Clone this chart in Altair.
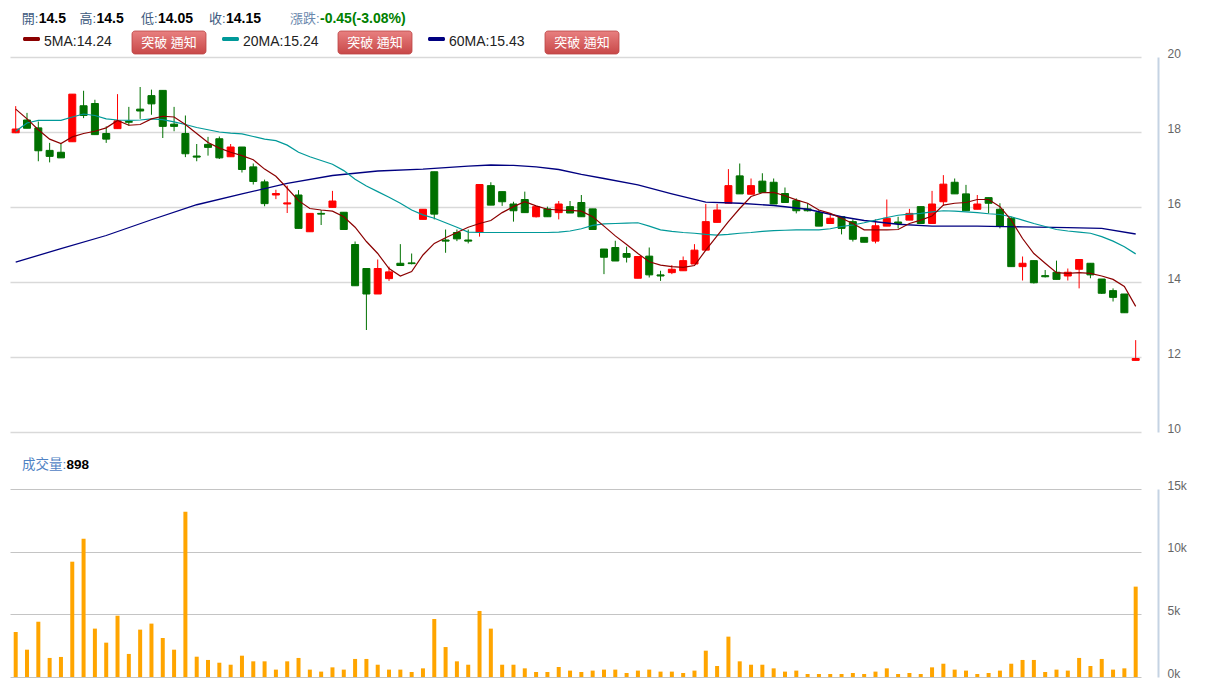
import altair as alt
import pandas as pd

FONT = "Liberation Sans, Arial, Noto Sans CJK TC, sans-serif"

# ---------------- data ----------------
opens = [17.98, 18.32, 18.11, 17.51, 17.46, 17.74, 18.70, 18.76, 17.96, 18.09,
         18.28, 18.61, 18.97, 19.11, 18.21, 17.96, 17.36, 17.67, 17.82, 17.34,
         17.60, 17.07, 16.67, 16.32, 16.08, 16.32, 15.34, 15.83, 15.99, 15.86,
         15.00, 14.36, 13.68, 14.09, 14.50, 14.51, 15.67, 16.94, 15.12, 15.32,
         15.12, 15.32, 16.57, 16.41, 16.08, 16.20, 15.74, 15.95, 15.85, 16.01,
         16.12, 15.95, 14.88, 14.92, 14.76, 14.10, 14.69, 14.19, 14.25, 14.30,
         14.48, 14.85, 15.59, 16.10, 16.83, 16.34, 16.69, 16.66, 16.36, 16.17,
         15.95, 15.85, 15.56, 15.74, 15.61, 15.19, 15.09, 15.49, 15.60, 15.65,
         16.01, 15.56, 16.14, 16.66, 16.35, 15.94, 16.25, 15.94, 15.70, 14.41,
         14.57, 14.17, 14.26, 14.16, 14.34, 14.50, 14.08, 13.77, 13.68, 11.91]
highs = [18.69, 18.51, 18.28, 17.71, 17.69, 19.01, 19.10, 18.86, 18.15, 19.01,
         18.67, 19.20, 19.13, 19.11, 18.67, 18.44, 17.68, 17.87, 17.88, 17.68,
         17.60, 17.16, 16.73, 16.46, 16.57, 16.45, 15.83, 15.92, 16.43, 15.86,
         15.08, 14.36, 14.60, 14.41, 15.01, 14.76, 15.94, 16.94, 15.40, 15.40,
         15.40, 16.60, 16.66, 16.41, 16.14, 16.41, 16.01, 16.01, 16.16, 16.16,
         16.32, 15.95, 14.88, 15.10, 14.94, 14.68, 14.92, 14.30, 14.45, 14.68,
         15.01, 16.08, 16.08, 17.01, 17.16, 16.76, 16.90, 16.76, 16.52, 16.23,
         16.10, 15.92, 15.79, 15.76, 15.67, 15.19, 15.67, 16.20, 15.74, 15.95,
         16.01, 16.43, 16.85, 16.76, 16.59, 16.32, 16.25, 16.10, 15.74, 14.68,
         14.57, 14.32, 14.57, 14.36, 14.60, 14.50, 14.08, 13.83, 13.68, 12.45]
lows = [17.97, 18.10, 17.22, 17.19, 17.31, 17.74, 18.37, 17.93, 17.71, 18.09,
        18.17, 18.35, 18.46, 17.84, 18.02, 17.33, 17.22, 17.37, 17.28, 17.34,
        16.92, 16.60, 16.02, 16.21, 15.84, 15.43, 15.34, 15.52, 15.99, 15.39,
        13.90, 12.72, 13.68, 14.03, 14.44, 14.47, 15.67, 15.67, 14.78, 15.09,
        15.03, 15.21, 16.05, 16.03, 15.61, 15.85, 15.72, 15.74, 15.67, 15.84,
        15.74, 15.39, 14.21, 14.56, 14.52, 14.10, 14.12, 14.03, 14.21, 14.30,
        14.48, 14.85, 15.59, 16.10, 16.35, 16.34, 16.39, 16.08, 16.12, 15.83,
        15.88, 15.49, 15.56, 15.27, 15.08, 15.06, 15.03, 15.49, 15.43, 15.65,
        15.56, 15.56, 16.03, 16.35, 15.90, 15.94, 15.83, 15.43, 14.41, 14.04,
        13.96, 14.12, 14.07, 14.04, 13.83, 14.10, 13.68, 13.48, 13.18, 11.91]
closes = [18.08, 18.10, 17.50, 17.35, 17.31, 19.01, 18.44, 17.93, 17.81, 18.30,
          18.26, 18.56, 18.75, 18.15, 18.15, 17.42, 17.33, 17.59, 17.31, 17.60,
          17.00, 16.68, 16.09, 16.36, 16.11, 15.43, 15.83, 15.81, 16.16, 15.40,
          13.90, 13.68, 14.36, 14.27, 14.44, 14.49, 15.94, 15.81, 15.09, 15.15,
          15.09, 16.60, 16.05, 16.14, 15.90, 15.85, 16.01, 15.74, 16.08, 15.84,
          15.74, 15.40, 14.66, 14.56, 14.66, 14.68, 14.19, 14.16, 14.34, 14.57,
          14.85, 15.61, 15.92, 16.57, 16.35, 16.57, 16.39, 16.08, 16.12, 15.90,
          15.90, 15.49, 15.70, 15.43, 15.14, 15.06, 15.50, 15.70, 15.56, 15.83,
          15.56, 16.08, 16.61, 16.35, 15.90, 16.08, 16.10, 15.49, 14.41, 14.50,
          13.98, 14.14, 14.07, 14.26, 14.60, 14.19, 13.70, 13.59, 13.18, 11.96]
volumes_k = [3.59, 2.18, 4.41, 1.52, 1.60, 9.20, 11.04, 3.86, 2.74, 4.89,
             1.84, 3.78, 4.26, 3.11, 2.18, 13.19, 1.62, 1.36, 1.14, 0.98,
             1.70, 1.25, 1.25, 0.59, 1.25, 1.52, 0.59, 0.43, 0.77, 0.59,
             1.44, 1.44, 0.98, 0.59, 0.59, 0.40, 0.69, 4.63, 2.39, 1.25,
             0.98, 5.27, 3.86, 0.98, 0.98, 0.69, 0.40, 0.40, 0.80, 0.51,
             0.40, 0.51, 0.59, 0.59, 0.32, 0.51, 0.59, 0.43, 0.43, 0.32,
             0.51, 2.10, 0.88, 3.22, 1.25, 0.98, 0.98, 0.69, 0.43, 0.51,
             0.24, 0.24, 0.24, 0.24, 0.32, 0.24, 0.43, 0.69, 0.24, 0.32,
             0.24, 0.77, 1.06, 0.59, 0.51, 0.24, 0.32, 0.51, 1.06, 1.36,
             1.36, 0.40, 0.59, 0.51, 1.52, 0.88, 1.44, 0.59, 0.69, 7.21]
ma5 = [18.61, 18.35, 18.06, 17.81, 17.69, 17.87, 17.96, 18.02, 18.11, 18.31,
       18.18, 18.20, 18.35, 18.42, 18.40, 18.20, 17.96, 17.72, 17.57, 17.46,
       17.37, 17.26, 17.01, 16.82, 16.50, 16.17, 15.96, 15.92, 15.89, 15.74,
       15.46, 15.08, 14.76, 14.36, 14.16, 14.28, 14.72, 15.03, 15.18, 15.32,
       15.46, 15.56, 15.64, 15.85, 16.01, 16.14, 16.03, 15.94, 15.92, 15.91,
       15.89, 15.74, 15.49, 15.23, 15.00, 14.76, 14.54, 14.45, 14.41, 14.39,
       14.44, 14.85, 15.23, 15.61, 15.96, 16.28, 16.38, 16.39, 16.30, 16.19,
       16.10, 15.92, 15.83, 15.70, 15.56, 15.39, 15.39, 15.39, 15.40, 15.56,
       15.65, 15.76, 16.05, 16.10, 16.12, 16.20, 16.20, 16.01, 15.65, 15.16,
       14.76, 14.50, 14.25, 14.23, 14.25, 14.23, 14.16, 14.07, 13.88, 13.35]
ma20 = [18.02, 18.24, 18.31, 18.31, 18.31, 18.40, 18.48, 18.44, 18.35, 18.32,
        18.31, 18.32, 18.35, 18.33, 18.27, 18.20, 18.12, 18.06, 18.00, 17.97,
        17.95, 17.88, 17.81, 17.77, 17.65, 17.46, 17.34, 17.24, 17.14, 16.97,
        16.74, 16.56, 16.41, 16.26, 16.10, 15.92, 15.79, 15.70, 15.58, 15.46,
        15.33, 15.32, 15.32, 15.32, 15.32, 15.32, 15.32, 15.32, 15.33, 15.36,
        15.42, 15.51, 15.55, 15.56, 15.57, 15.58, 15.49, 15.39, 15.35, 15.32,
        15.30, 15.27, 15.25, 15.27, 15.30, 15.32, 15.35, 15.37, 15.38, 15.39,
        15.39, 15.39, 15.42, 15.48, 15.52, 15.58, 15.65, 15.72, 15.78, 15.81,
        15.83, 15.87, 15.90, 15.89, 15.87, 15.85, 15.82, 15.80, 15.74, 15.65,
        15.56, 15.48, 15.40, 15.36, 15.33, 15.30, 15.21, 15.09, 14.94, 14.75]
ma60_idx = [0, 4, 8, 12, 16, 20, 24, 28, 32, 36, 40, 42, 44, 46, 48, 50, 52, 55,
            58, 61, 64, 67, 70, 73, 75, 78, 81, 85, 89, 93, 96, 99]
ma60_val = [14.53, 14.89, 15.24, 15.66, 16.06, 16.35, 16.63, 16.84, 16.96, 17.01,
            17.09, 17.12, 17.11, 17.07, 17.00, 16.87, 16.76, 16.59, 16.35, 16.13,
            16.10, 16.04, 15.94, 15.74, 15.64, 15.54, 15.49, 15.49, 15.47, 15.45,
            15.43, 15.28]

price_ticks = [10, 12, 14, 16, 18, 20]
vol_ticks = [0, 5000, 10000, 15000]

hdr_labels = ["開:", "高:", "低:", "收:", "漲跌:"]
hdr_values = ["14.5", "14.5", "14.05", "14.15", "-0.45(-3.08%)"]
ma_labels = ["5MA:14.24", "20MA:15.24", "60MA:15.43"]
ma_colors = ["#8b0000", "#009999", "#000080"]
button_text = "突破 通知"
vol_label = "成交量:"
vol_value = "898"

# ---------------- frames ----------------
n = len(closes)
idx = list(range(n))
candles = pd.DataFrame({"i": idx, "open": opens, "high": highs,
                        "low": lows, "close": closes})
candles["dir"] = ["up" if c >= o else "down" for o, c in zip(opens, closes)]
vol_df = pd.DataFrame({"i": idx, "vol": [v * 1000 for v in volumes_k]})
ma5_df = pd.DataFrame({"i": idx, "v": ma5})
ma20_df = pd.DataFrame({"i": idx, "v": ma20})
ma60_df = pd.DataFrame({"i": ma60_idx, "v": ma60_val})
one = pd.DataFrame({"k": [0]})

W, H = 1131, 620
xs = alt.Scale(domain=[-0.504, 99.47], nice=False, zero=False, padding=0)
py = alt.Scale(domain=[10, 20], range=[375, 0], nice=False, zero=False)
vy = alt.Scale(domain=[0, 15000], range=[620, 432], nice=False)
cs = alt.Scale(domain=["up", "down"], range=["#ff0000", "#007000"])

common_axis = dict(orient="right", grid=True, domain=True, domainColor="#c5d3e3",
                   domainWidth=2, offset=17, ticks=False, labelPadding=9,
                   labelColor="#666666", labelFontSize=12, labelFont=FONT,
                   labelOffset=-4, title=None, labelAlign="left",
                   labelBaseline="middle", labelOverlap=False)
price_axis = alt.Axis(values=price_ticks, format="d", gridColor="#d9d9d9",
                      gridWidth=1.5, **common_axis)
vol_axis = alt.Axis(values=vol_ticks, labelExpr="(datum.value/1000) + 'k'",
                    gridColor="#c4c4c4", gridWidth=1, **common_axis)

X = alt.X("i:Q", scale=xs, axis=None)

wick = alt.Chart(candles).mark_rule(strokeWidth=1).encode(
    x=X, y=alt.Y("low:Q", scale=py, axis=price_axis), y2="high:Q",
    color=alt.Color("dir:N", scale=cs, legend=None))
body = alt.Chart(candles).mark_bar(size=7, strokeWidth=1).encode(
    x=X, y=alt.Y("open:Q", scale=py, axis=price_axis), y2="close:Q",
    fill=alt.Fill("dir:N", scale=cs, legend=None),
    stroke=alt.Stroke("dir:N", scale=cs, legend=None))
l60 = alt.Chart(ma60_df).mark_line(color=ma_colors[2], strokeWidth=1.3).encode(
    x=X, y=alt.Y("v:Q", scale=py, axis=price_axis))
l20 = alt.Chart(ma20_df).mark_line(color=ma_colors[1], strokeWidth=1.2).encode(
    x=X, y=alt.Y("v:Q", scale=py, axis=price_axis))
l5 = alt.Chart(ma5_df).mark_line(color=ma_colors[0], strokeWidth=1.2).encode(
    x=X, y=alt.Y("v:Q", scale=py, axis=price_axis))
price = alt.layer(wick, body, l60, l20, l5)

vol = alt.Chart(vol_df).mark_bar(size=4, color="#ffa500").encode(
    x=X, y=alt.Y("vol:Q", scale=vy, axis=vol_axis))


def txt(x, y, s, color, size, weight="normal", align="left"):
    return alt.Chart(one).mark_text(align=align, baseline="middle", font=FONT,
                                    fontSize=size, fontWeight=weight,
                                    color=color).encode(
        x=alt.value(x), y=alt.value(y), text=alt.value(s))


def rect(x0, x1, y0, y1, **kw):
    return alt.Chart(one).mark_rect(**kw).encode(
        x=alt.value(x0), x2=alt.value(x1), y=alt.value(y0), y2=alt.value(y1))


decor = []
value_x = [28.8, 86.5, 148, 216, 310]
label_w = [16.4, 16.4, 16.4, 16.4, 29.6]
label_col = ["#3d5a80", "#3d5a80", "#3d5a80", "#3d5a80", "#6a88ad"]
value_col = ["#000000", "#000000", "#000000", "#000000", "#008000"]
for vx, lw, lab, val, lc, vc in zip(value_x, label_w, hdr_labels, hdr_values,
                                    label_col, value_col):
    decor.append(txt(vx - 0.5, -38, lab, lc, 13, align="right"))
    decor.append(txt(vx, -38, val, vc, 14, "bold"))

grad = alt.LinearGradient(gradient="linear",
                          stops=[alt.GradientStop(color="#e88080", offset=0),
                                 alt.GradientStop(color="#c84848", offset=1)],
                          x1=0, x2=0, y1=0, y2=1)
sw_x = [13, 212, 418]
lab_x = [34, 233, 439]
btn_x = [122, 328, 535]
for sx, tx, bx, lab, col in zip(sw_x, lab_x, btn_x, ma_labels, ma_colors):
    decor.append(rect(sx, sx + 17, -20, -16, color=col, cornerRadius=1.5))
    decor.append(txt(tx, -15, lab, "#222222", 14))
    decor.append(rect(bx, bx + 74, -26, -3, fill=grad, stroke="#bb4444",
                      strokeWidth=0.8, cornerRadius=3))
    decor.append(txt(bx + 37, -14, button_text, "#ffffff", 13, align="center"))

decor.append(txt(12, 408, vol_label, "#4f82c4", 13.5))
decor.append(txt(56.5, 408, vol_value, "#000000", 13.5, "bold"))

chart = alt.layer(price, vol, *decor).resolve_scale(y="independent").properties(
    width=W, height=H,
    autosize=alt.AutoSizeParams(type="none"),
    padding={"left": 2, "top": 49, "right": 48, "bottom": 2},
    background="#ffffff",
).configure_view(strokeWidth=0)

chart.save("out.html", embed_options={"renderer": "svg", "actions": False})
